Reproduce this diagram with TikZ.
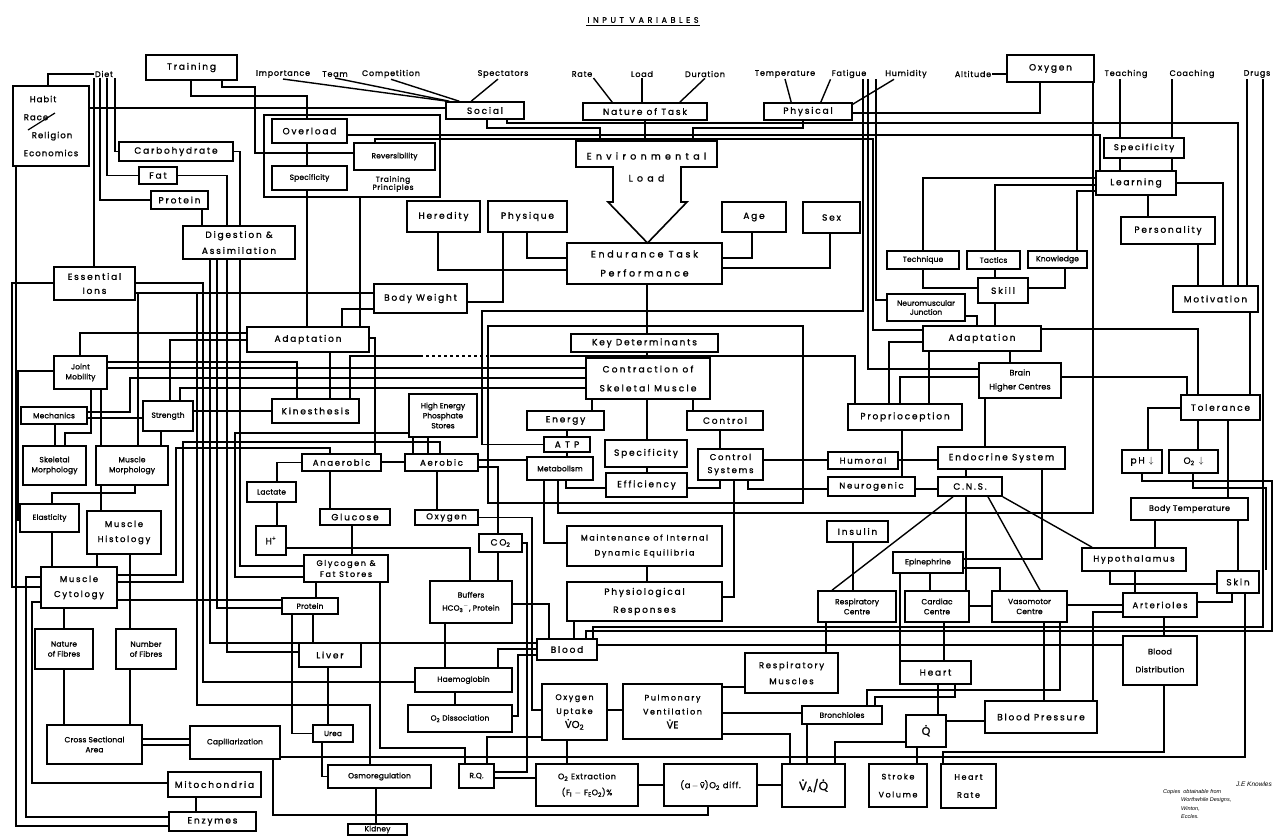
\documentclass[tikz,border=0pt]{standalone}
\usepackage{fontspec}
\setmainfont{Poppins}[LetterSpace=20,FakeBold=1.2]
\newfontfamily\footf{Liberation Sans}
\newcommand\fs{\fontsize{9}{14}\selectfont}
\newcommand\fsn{\fontsize{7.5}{10}\selectfont\addfontfeature{LetterSpace=2}}
\newcommand\fsb{\fontsize{9.5}{19}\selectfont\addfontfeature{LetterSpace=28}}
\newcommand\fst{\fontsize{8}{10}\selectfont\addfontfeature{LetterSpace=10}}
\newcommand\dt[1]{\leavevmode\ooalign{#1\cr\hidewidth\raisebox{0.78em}{.}\hidewidth\cr}}
\newcommand\vbar{\leavevmode\ooalign{v\cr\hidewidth\raisebox{0.62em}{\rule{0.42em}{0.07em}}\hidewidth\cr}}
\tikzset{
  box/.style={draw, line width=1.6pt, inner sep=0pt, align=center, font=\fs},
  grp/.style={draw, line width=2.2pt, inner sep=0pt},
  txt/.style={inner sep=1pt, font=\fst},
}
\newcommand\bx[7][]{\node[box,#1,minimum width={(#5-#3)*1pt},minimum height={(#6-#4)*1pt}] (#2) at ({(#3+#5)/2},{(#4+#6)/2}) {#7};}
\newcommand\conV[3]{\draw (#3,0 |- #1.south) -- (#3,0 |- #2.north);}
\newcommand\conH[3]{\draw (#1.east |- 0,#3) -- (#2.west |- 0,#3);}
\begin{document}
\begin{tikzpicture}[x=1pt,y=-1pt]
\fill[white] (0,0) rectangle (1287,836);
\useasboundingbox (0,0) rectangle (1287,836);

% title and input texts
\node[txt,font=\fontsize{8}{10}\selectfont\addfontfeature{LetterSpace=45}] (title) at (643,20) {INPUT VARIABLES};
\draw[line width=0.9pt] ([yshift=-1pt]title.south west) -- ([yshift=-1pt]title.south east);
\node[txt] (diet) at (104,74) {Diet};
\node[txt] (importance) at (283,74) {Importance};
\node[txt] (team) at (335,74) {Team};
\node[txt] (competition) at (391,74) {Competition};
\node[txt] (spectators) at (503,74) {Spectators};
\node[txt] (rate) at (582,74) {Rate};
\node[txt] (load) at (642,74) {Load};
\node[txt] (duration) at (705,74) {Duration};
\node[txt] (temperature) at (785,74) {Temperature};
\node[txt] (fatigue) at (849,74) {Fatigue};
\node[txt] (humidity) at (906,74) {Humidity};
\node[txt] (altitude) at (973,74) {Altitude};
\node[txt] (teaching) at (1126,74) {Teaching};
\node[txt] (coaching) at (1192,74) {Coaching};
\node[txt] (drugs) at (1257,74) {Drugs};

% group boxes
\node[grp,minimum width=176pt,minimum height=82pt] (tpgroup) at (352,156) {};
\node[grp,minimum width=315pt,minimum height=177pt] (kdgroup) at (645.5,414.5) {};

% boxes
\bx[align=left,font=\fontsize{8.5}{18}\selectfont\addfontfeature{LetterSpace=12}]{habit}{13}{86}{89}{166}{\hspace*{6pt}Habit\\Race\\\hspace*{8pt}Religion\\Economics}
\draw[line width=1.2pt] (28,130) -- (55,113);
\bx{training}{146}{55}{237}{80}{Training}
\bx{social}{446}{102}{524}{119}{Social}
\bx{task}{583}{103}{707}{120}{Nature of Task}
\bx{physical}{764}{103}{852}{120}{Physical}
\bx{oxygentop}{1007}{55}{1094}{82}{Oxygen}
\node[inner sep=0pt,minimum width=141pt,minimum height=26pt] (envbox) at (646.5,154) {};
\draw[line width=1.6pt] (613,202) -- (613,167) -- (576,167) -- (576,141) -- (717,141) -- (717,167) -- (681,167) -- (681,202) -- (687,202) -- (647.5,243) -- (608,202) -- cycle;
\node[inner sep=0pt,align=center,font=\fontsize{9.5}{22}\selectfont\addfontfeature{LetterSpace=45}] (envload) at (646.5,167) {Environmental\\Load};
\bx{overload}{272}{119}{347}{143}{Overload}
\bx[font=\fsn]{reversibility}{354}{143}{435}{170}{Reversibility}
\bx[font=\fsn]{specT}{272}{166}{347}{190}{Specificity}
\node[inner sep=0pt,align=center,font=\fontsize{7.5}{8}\selectfont\addfontfeature{LetterSpace=8}] (tptext) at (393,184) {Training\\Principles};
\bx{carbo}{119}{142}{233}{161}{Carbohydrate}
\bx{fat}{139}{167}{177}{184}{Fat}
\bx{proteinD}{151}{191}{208}{209}{Protein}
\bx[font=\fontsize{9}{16}\selectfont]{digestion}{183}{226}{295}{259}{Digestion \&\\Assimilation}
\bx{ions}{54}{267}{135}{300}{Essential\\Ions}
\bx{heredity}{407}{201}{480}{232}{Heredity}
\bx{physique}{488}{201}{567}{232}{Physique}
\bx[font=\fsb]{etp}{567}{243}{722}{284}{Endurance Task\\Performance}
\bx{age}{722}{202}{786}{232}{Age}
\bx{sex}{803}{202}{860}{233}{Sex}
\bx{bodyweight}{374}{284}{467}{313}{Body Weight}
\bx{adaptL}{247}{327}{369}{352}{Adaptation}
\bx[font=\fsn]{joint}{54}{356}{107}{389}{Joint\\Mobility}
\bx[font=\fsn]{mechanics}{21}{407}{87}{424}{Mechanics}
\bx[font=\fsn]{strength}{143}{401}{193}{431}{Strength}
\bx{kines}{272}{399}{359}{423}{Kinesthesis}
\bx[font=\fsn]{skeletal}{23}{446}{86}{485}{Skeletal\\Morphology}
\bx[font=\fsn]{musclemorph}{96}{446}{168}{485}{Muscle\\Morphology}
\bx[font=\fsn]{elasticity}{20}{504}{79}{532}{Elasticity}
\bx[font=\fontsize{8.5}{15}\selectfont]{histology}{87}{511}{161}{554}{Muscle\\Histology}
\bx[font=\fontsize{8.5}{15}\selectfont]{cytology}{41}{567}{117}{608}{Muscle\\Cytology}
\bx[font=\fsn]{naturef}{35}{629}{93}{669}{Nature\\of Fibres}
\bx[font=\fsn]{numberf}{116}{629}{176}{669}{Number\\of Fibres}
\bx[font=\fsn]{cross}{47}{725}{142}{764}{Cross Sectional\\Area}
\bx[font=\fsn]{capill}{190}{726}{280}{759}{Capillarization}
\bx{mito}{168}{772}{261}{797}{Mitochondria}
\bx{enzymes}{169}{812}{256}{831}{Enzymes}
\bx[font=\fontsize{7.5}{10}\selectfont\addfontfeature{LetterSpace=0}]{hep}{409}{394}{477}{437}{High Energy\\Phosphate\\Stores}
\bx[font=\fontsize{8.5}{10}\selectfont]{anaerobic}{302}{454}{381}{471}{Anaerobic}
\bx[font=\fontsize{8.5}{10}\selectfont]{aerobic}{405}{454}{478}{471}{Aerobic}
\bx[font=\fsn]{lactate}{247}{482}{296}{502}{Lactate}
\bx{hplus}{256}{526}{286}{555}{H\textsuperscript{+}}
\bx{glucose}{320}{509}{390}{525}{Glucose}
\bx[font=\fontsize{8.5}{10}\selectfont]{oxygenM}{415}{510}{478}{525}{Oxygen}
\bx[font=\fontsize{8}{11}\selectfont]{glycogen}{304}{555}{388}{582}{Glycogen \&\\Fat Stores}
\bx{co2}{479}{534}{522}{552}{CO\textsubscript{2}}
\bx[font=\fsn]{proteinM}{282}{598}{338}{614}{Protein}
\bx{liver}{299}{643}{361}{667}{Liver}
\bx[font=\fsn]{urea}{313}{725}{353}{742}{Urea}
\bx[font=\fsn]{osmo}{328}{765}{431}{788}{Osmoregulation}
\bx[font=\fsn]{kidney}{348}{824}{407}{835}{Kidney}
\bx[font=\fontsize{7.5}{13}\selectfont\addfontfeature{LetterSpace=2}]{buffers}{430}{581}{512}{623}{Buffers\\HCO\textsubscript{3}\textsuperscript{$-$}, Protein}
\bx[font=\fsn]{haemo}{415}{668}{512}{692}{Haemoglobin}
\bx[font=\fsn]{o2diss}{408}{705}{512}{732}{O\textsubscript{2} Dissociation}
\bx{blood}{537}{639}{597}{660}{Blood}
\bx[font=\fontsize{8}{14}\selectfont]{o2up}{542}{684}{607}{740}{Oxygen\\Uptake\\{\fontsize{10}{10}\selectfont\dt{V}O\textsubscript{2}}}
\bx[font=\fontsize{8}{14}\selectfont]{pulm}{623}{684}{722}{739}{Pulmonary\\Ventilation\\{\fontsize{10}{10}\selectfont\dt{V}E}}
\bx[font=\fsn]{rq}{459}{764}{494}{788}{R.Q.}
\bx[font=\fontsize{8}{16}\selectfont\addfontfeature{LetterSpace=8}]{o2ext}{536}{764}{638}{806}{O\textsubscript{2} Extraction\\(F\textsubscript{I} $-$ F\textsubscript{E}O\textsubscript{2})\%}
\bx[font=\fontsize{8.5}{10}\selectfont\addfontfeature{LetterSpace=8}]{avdiff}{664}{764}{757}{806}{(a\,$-$\,\vbar)O\textsubscript{2} diff.}
\bx[font=\fontsize{12}{14}\selectfont\addfontfeature{LetterSpace=0}]{vaq}{782}{764}{845}{807}{\dt{V}\textsubscript{A}/\dt{Q}}
\bx{keydet}{571}{334}{718}{352}{Key Determinants}
\bx[font=\fontsize{9}{19}\selectfont\addfontfeature{LetterSpace=24}]{contraction}{586}{358}{710}{399}{Contraction of\\Skeletal Muscle}
\bx{energy}{527}{411}{604}{430}{Energy}
\bx{control}{687}{411}{763}{430}{Control}
\bx{atp}{544}{437}{590}{452}{A T P}
\bx{specK}{605}{440}{687}{467}{Specificity}
\bx[font=\fsn]{metab}{527}{457}{593}{480}{Metabolism}
\bx{effic}{606}{473}{687}{497}{Efficiency}
\bx[font=\fontsize{8.5}{13}\selectfont]{ctrlsys}{698}{449}{763}{480}{Control\\Systems}
\bx[font=\fontsize{8}{15}\selectfont]{maint}{567}{526}{722}{566}{Maintenance of Internal\\Dynamic Equilibria}
\bx[font=\fontsize{9}{18}\selectfont]{physresp}{567}{582}{722}{621}{Physiological\\Responses}
\bx[font=\fontsize{8.5}{16}\selectfont]{respmusc}{745}{653}{838}{693}{Respiratory\\Muscles}
\bx[font=\fsn]{bronch}{802}{706}{882}{724}{Bronchioles}
\bx[font=\fontsize{8.5}{10}\selectfont]{specR}{1104}{138}{1184}{158}{Specificity}
\bx{learning}{1096}{171}{1176}{195}{Learning}
\bx{personality}{1121}{217}{1215}{244}{Personality}
\bx[font=\fsn]{technique}{887}{251}{959}{269}{Technique}
\bx[font=\fsn]{tactics}{967}{251}{1020}{269}{Tactics}
\bx[font=\fsn]{knowledge}{1028}{251}{1087}{268}{Knowledge}
\bx{skill}{978}{278}{1028}{303}{Skill}
\bx[font=\fontsize{7.5}{9}\selectfont\addfontfeature{LetterSpace=0}]{nmj}{887}{294}{965}{321}{Neuromuscular\\Junction}
\bx{motivation}{1173}{286}{1258}{312}{Motivation}
\bx{adaptR}{923}{326}{1041}{351}{Adaptation}
\bx[font=\fontsize{8}{14}\selectfont\addfontfeature{LetterSpace=2}]{brain}{979}{363}{1061}{398}{Brain\\Higher Centres}
\bx{proprio}{848}{404}{962}{430}{Proprioception}
\bx{tolerance}{1181}{395}{1260}{420}{Tolerance}
\bx[font=\fontsize{8.5}{10}\selectfont]{humoral}{828}{452}{898}{469}{Humoral}
\bx[font=\fontsize{8.5}{10}\selectfont]{neuro}{828}{477}{915}{496}{Neurogenic}
\bx{endocrine}{938}{447}{1065}{469}{Endocrine System}
\bx{cns}{938}{477}{1002}{496}{C.N.S.}
\bx{ph}{1122}{450}{1162}{473}{pH $\downarrow$}
\bx{o2low}{1169}{450}{1218}{473}{O\textsubscript{2} $\downarrow$}
\bx[font=\fontsize{8}{10}\selectfont\addfontfeature{LetterSpace=6}]{bodytemp}{1131}{498}{1248}{520}{Body Temperature}
\bx{insulin}{827}{521}{888}{542}{Insulin}
\bx[font=\fontsize{8.5}{10}\selectfont]{hypo}{1082}{548}{1186}{571}{Hypothalamus}
\bx[font=\fsn]{epi}{893}{552}{963}{573}{Epinephrine}
\bx{skin}{1217}{571}{1259}{593}{Skin}
\bx[font=\fsn]{respc}{818}{591}{896}{622}{Respiratory\\Centre}
\bx[font=\fsn]{cardiac}{905}{591}{969}{622}{Cardiac\\Centre}
\bx[font=\fsn]{vaso}{992}{591}{1067}{622}{Vasomotor\\Centre}
\bx[font=\fontsize{8.5}{10}\selectfont]{arterioles}{1123}{593}{1197}{617}{Arterioles}
\bx[font=\fontsize{8}{18}\selectfont\addfontfeature{LetterSpace=4}]{blooddist}{1123}{636}{1197}{685}{Blood\\Distribution}
\bx{heart}{900}{661}{971}{684}{Heart}
\bx{bp}{985}{701}{1097}{733}{Blood Pressure}
\bx[font=\fontsize{11}{12}\selectfont]{qdot}{906}{715}{946}{747}{\dt{Q}}
\bx[font=\fontsize{8}{18}\selectfont]{stroke}{869}{764}{927}{807}{Stroke\\Volume}
\bx[font=\fontsize{8}{18}\selectfont]{hrate}{941}{764}{996}{808}{Heart\\Rate}

% footer
\node[anchor=east,inner sep=0pt,font=\footf\itshape\fontsize{6.5}{7}\selectfont] (author) at (1272,784) {J.E Knowles};
\node[anchor=north west,inner sep=0pt,align=left,font=\footf\itshape\fontsize{5.5}{8.5}\selectfont] (copies) at (1163,789) {Copies\ \ obtainable from\\\hspace*{18pt}Worthwhile Designs,\\\hspace*{18pt}Winton,\\\hspace*{18pt}Eccles.};

\begin{scope}[line width=1.4pt]
% input texts to top boxes
\draw (importance.south) -- ([xshift=2pt]social.north west);
\draw (team.south) -- ([xshift=4pt]social.north west);
\draw (competition.south) -- ([xshift=14pt]social.north west);
\draw ([xshift=-5pt]spectators.south) -- ([xshift=26pt]social.north west);
\draw (rate.south east) -- ([xshift=30pt]task.north west);
\draw (load.south) -- (load.south |- task.north);
\draw (duration.south) -- ([xshift=-28pt]task.north east);
\draw (temperature.south) -- ([xshift=28pt]physical.north west);
\draw (fatigue.south west) -- ([xshift=-32pt]physical.north east);
\draw ([xshift=-12pt]humidity.south) -- ([yshift=-2pt]physical.north east);
\draw (altitude.east) -- (oxygentop.west |- altitude.east);
\draw (1040,0 |- oxygentop.south) |- (physical.east |- 0,113);
% environment
\draw (487,0 |- social.south) |- (600,128) -- (600,0 |- envbox.north);
\draw (task.south) -- (task.south |- envbox.north);
\draw (803,0 |- physical.south) |- (693,128) -- (693,0 |- envbox.north);
\draw (507,0 |- social.south) |- (1238,123) -- (1238,0 |- motivation.north);
\draw (habit.east |- 0,108) -- (social.west |- 0,108);
% training
\draw (191,0 |- training.south) |- (307,96) -- (307,0 |- overload.north);
\draw (222,0 |- training.south) |- (255,87) |- (reversibility.west |- 0,153);
\conV{overload}{specT}{307}
\draw (overload.east |- 0,135) -- (1100,135) -- (1100,0 |- learning.north);
\draw (375,0 |- reversibility.north) |- (873,139) |- (adaptR.west |- 0,330);
\conV{specT}{adaptL}{307}
\draw (360,0 |- tpgroup.south) -- (360,0 |- adaptL.north);
% diet
\draw (diet.west) -| (48,0 |- habit.north);
\draw (94,0 |- diet.south) -- (94,0 |- ions.north);
\draw (100,0 |- diet.south) |- (proteinD.west);
\draw (107,0 |- diet.south) |- (fat.west);
\draw (115,0 |- diet.south) |- (carbo.west);
\draw (carbo.east) -| (240,0 |- digestion.north);
\draw (fat.east) -| (227,0 |- digestion.north);
\conV{proteinD}{digestion}{202}
% ETP
\draw (438,0 |- heredity.south) |- (etp.west |- 0,270);
\draw (527,0 |- physique.south) |- (etp.west |- 0,258);
\draw (752,0 |- age.south) |- (etp.east |- 0,258);
\draw (830,0 |- sex.south) |- (etp.east |- 0,268);
\draw (bodyweight.east |- 0,302) -| (503,0 |- physique.south);
\conV{etp}{keydet}{647}
% key determinants
\conV{keydet}{contraction}{647}
\conV{contraction}{energy}{592}
\conV{contraction}{specK}{647}
\conV{contraction}{control}{693}
\conV{energy}{atp}{567}
\conV{atp}{metab}{567}
\conV{control}{ctrlsys}{720}
\conV{specK}{effic}{647}
\draw (566,0 |- metab.south) |- (effic.west |- 0,488);
\draw (720,0 |- ctrlsys.south) |- (effic.east |- 0,488);
\draw (544,0 |- metab.south) |- (maint.west |- 0,543);
\draw (734,0 |- ctrlsys.south) |- (physresp.east |- 0,597);
\conV{maint}{physresp}{647}
\conH{ctrlsys}{humoral}{460}
\draw (748,0 |- ctrlsys.south) |- (neuro.west |- 0,489);
\conH{aerobic}{metab}{460}
\draw (863,0 |- fatigue.south) |- (482,311) |- (atp.west);
\draw (1093,0 |- oxygentop.south) |- (558,513) -- (558,0 |- metab.south);
% left side
\draw (joint.east |- 0,368) -- (contraction.west |- 0,368);
\draw (mechanics.east |- 0,412) -| (130,378) -- (contraction.west |- 0,378);
\draw (180,0 |- strength.north) |- (contraction.west |- 0,388);
\draw (350,0 |- kines.north) |- (420,356);
\draw[dashed] (420,356) -- (490,356);
\draw (490,356) -| (855,0 |- proprio.north);
\draw (adaptL.west |- 0,333) -| (80,0 |- joint.north);
\draw (adaptL.west |- 0,340) -| (170,0 |- strength.north);
\conV{adaptL}{kines}{330}
\conH{strength}{kines}{411}
\draw (joint.east |- 0,362) -| (297,0 |- kines.north);
\draw (joint.west |- 0,371) -| (18,520) -- (elasticity.west |- 0,520);
\conV{joint}{musclemorph}{101}
\conV{mechanics}{skeletal}{55}
\conH{mechanics}{strength}{418}
\draw (91,0 |- joint.south) |- (65,433) -- (65,0 |- skeletal.north);
\conV{strength}{musclemorph}{161}
\draw (135,0 |- musclemorph.south) |- (52,493) -- (52,0 |- elasticity.north);
\conV{musclemorph}{histology}{101}
\conV{elasticity}{cytology}{52}
\conV{histology}{cytology}{97}
\conV{histology}{numberf}{130}
\conV{cytology}{naturef}{64}
\conV{naturef}{cross}{64}
\conV{numberf}{cross}{130}
\conH{cross}{capill}{739}
\conH{cross}{capill}{745}
\draw (cytology.west |- 0,602) -| (32,783) -- (mito.west |- 0,783);
\conV{mito}{enzymes}{196}
\draw (cytology.west |- 0,577) -| (26,817) -- (enzymes.west |- 0,817);
\draw (16,0 |- habit.south) -- (16,826) -- (enzymes.west |- 0,826);
\draw (ions.west |- 0,283) -| (12,587) -- (cytology.west |- 0,587);
\draw (ions.east |- 0,283) -| (203,682) -- (haemo.west |- 0,682);
\draw (ions.east |- 0,293) -| (197,705) -| (370,0 |- osmo.north);
\draw (210,0 |- digestion.south) |- (blood.west |- 0,643);
\draw (217,0 |- digestion.south) |- (proteinM.west |- 0,608);
\draw (227,0 |- digestion.south) |- (liver.west |- 0,652);
\draw (240,0 |- digestion.south) |- (glycogen.west |- 0,566);
\draw (hep.west |- 0,433) -| (235,577) -- (glycogen.west |- 0,577);
\draw (bodyweight.west |- 0,309) -| (342,0 |- adaptL.north);
\draw (bodyweight.west |- 0,293) -| (138,0 |- musclemorph.north);
\draw (adaptL.east |- 0,338) -| (375,0 |- anaerobic.north);
\draw (cytology.east |- 0,575) -| (176,448) -| (330,0 |- anaerobic.north);
\draw (cytology.east |- 0,582) -| (183,442) -| (440,0 |- aerobic.north);
\draw (cytology.east |- 0,600) -- (proteinM.west |- 0,600);
% metabolism area
\draw (anaerobic.west) -| (277,0 |- lactate.north);
\conV{lactate}{hplus}{277}
\draw (hplus.east |- 0,548) -| (470,0 |- buffers.north);
\conV{anaerobic}{glucose}{330}
\conH{anaerobic}{aerobic}{462}
\conV{hep}{aerobic}{413}
\conV{hep}{aerobic}{428}
\conV{glucose}{glycogen}{352}
\conV{aerobic}{oxygenM}{437}
\conV{glycogen}{proteinM}{316}
\conV{proteinM}{liver}{313}
\draw (292,0 |- proteinM.south) |- (urea.west);
\conV{liver}{urea}{328}
\draw (322,0 |- urea.south) |- (osmo.west);
\conV{osmo}{kidney}{376}
\draw (273,0 |- capill.south) |- (708,815) -- (708,0 |- avdiff.south);
\draw (380,0 |- glycogen.south) |- (465,748) -- (465,0 |- rq.north);
\draw (aerobic.east |- 0,467) -| (498,0 |- co2.north);
\conV{co2}{buffers}{498}
\draw (oxygenM.east) -| (532,710) -- (o2up.west |- 0,710);
\draw (co2.east) -| (527,772) -- (rq.east |- 0,772);
\draw (buffers.east |- 0,604) -| (549,0 |- blood.north);
\conV{buffers}{haemo}{445}
\conV{haemo}{o2diss}{455}
\draw (498,0 |- haemo.north) |- (blood.west |- 0,649);
\draw (o2diss.east |- 0,716) -| (518,655) -- (blood.west |- 0,655);
\conV{physresp}{blood}{574}
% respiration
\conH{o2up}{pulm}{710}
\conH{pulm}{respmusc}{687}
\conH{pulm}{bronch}{713}
\draw (pulm.east |- 0,734) -| (790,0 |- vaq.north);
\conV{o2up}{o2ext}{567}
\conH{o2ext}{avdiff}{785}
\conH{avdiff}{vaq}{785}
\conH{rq}{o2ext}{778}
\draw (o2up.west |- 0,737) -| (487,0 |- rq.north);
\conV{bronch}{vaq}{807}
\conV{respc}{respmusc}{826}
\draw (qdot.west |- 0,742) -| (835,0 |- vaq.north);
\draw (867,0 |- bronch.north) |- (1060,690) -- (1060,0 |- vaso.south);
\draw (875,0 |- bronch.north) |- (955,697) -- (955,0 |- heart.south);
% circulation
\conV{cardiac}{heart}{944}
\conV{heart}{qdot}{938}
\draw (qdot.east |- 0,721) -- (bp.west |- 0,721);
\conV{vaso}{bp}{1044}
\draw (arterioles.west |- 0,612) -| (1093,0 |- bp.north);
\conV{arterioles}{blooddist}{1164}
\draw (1164,0 |- blooddist.south) |- (943,752) -- (943,0 |- hrate.north);
\conV{qdot}{stroke}{917}
\conH{blood}{blooddist}{645}
\draw (capill.east |- 0,757) -| (1245,0 |- skin.south);
\draw (1232,0 |- skin.south) |- (arterioles.east |- 0,602);
\conH{vaso}{arterioles}{605}
\conH{cardiac}{vaso}{606}
\conV{hypo}{arterioles}{1135}
\conV{epi}{heart}{900}
\conV{epi}{cardiac}{930}
\draw (epi.east |- 0,568) -| (1000,0 |- vaso.north);
\conV{insulin}{respc}{853}
% CNS
\draw (953,0 |- cns.south) -- (832,0 |- respc.north);
\draw (988,0 |- cns.south) -- (1040,0 |- vaso.north);
\draw (cns.south east) -- (1092,0 |- hypo.north);
\conV{cns}{cardiac}{966}
\conV{endocrine}{cns}{966}
\conV{brain}{endocrine}{985}
\conH{humoral}{endocrine}{460}
\conH{neuro}{cns}{489}
\conV{proprio}{neuro}{902}
\draw (1042,0 |- endocrine.south) |- (epi.east |- 0,559);
\draw (brain.west |- 0,377) -| (900,0 |- proprio.north);
\draw (868,0 |- humidity.south) |- (brain.west |- 0,369);
\draw (876,0 |- fatigue.south) |- (nmj.west |- 0,300);
% learning
\conV{teaching}{specR}{1120}
\conV{coaching}{specR}{1172}
\conV{specR}{learning}{1120}
\conV{specR}{learning}{1172}
\draw (learning.west |- 0,178) -| (923,0 |- technique.north);
\draw (learning.west |- 0,185) -| (995,0 |- tactics.north);
\draw (learning.west |- 0,191) -| (1077,0 |- knowledge.north);
\conV{learning}{personality}{1148}
\draw (learning.east |- 0,183) -| (1223,0 |- motivation.north);
\conV{personality}{motivation}{1198}
\draw (923,0 |- technique.south) |- (skill.west |- 0,288);
\conV{tactics}{skill}{995}
\draw (1065,0 |- knowledge.south) |- (skill.east |- 0,288);
\conV{skill}{adaptR}{995}
\draw (nmj.east |- 0,316) -| (977,0 |- adaptR.north);
% adaptation right
\conV{adaptR}{brain}{1010}
\draw (adaptR.west |- 0,342) -| (889,0 |- proprio.north);
\conV{adaptR}{proprio}{929}
\draw (adaptR.east |- 0,329) -| (1198,0 |- tolerance.north);
\draw (brain.east |- 0,377) -| (1187,0 |- tolerance.north);
\draw (tolerance.west |- 0,408) -| (1148,0 |- ph.north);
\conV{tolerance}{o2low}{1198}
\conV{tolerance}{bodytemp}{1228}
\conV{bodytemp}{hypo}{1155}
\conV{bodytemp}{skin}{1238}
\draw (1110,0 |- hypo.south) |- (skin.west |- 0,584);
\conV{motivation}{tolerance}{1250}
\conV{drugs}{motivation}{1247}
\draw (1263,0 |- drugs.south) |- (593,627) -- (593,0 |- blood.north);
\draw (1142,0 |- ph.south) |- (1272,481) |- (586,631) -- (586,0 |- blood.north);
\draw (1193,0 |- o2low.south) |- (1266,488) -- (1266,0 |- skin.north);
\end{scope}
\end{tikzpicture}
\end{document}
